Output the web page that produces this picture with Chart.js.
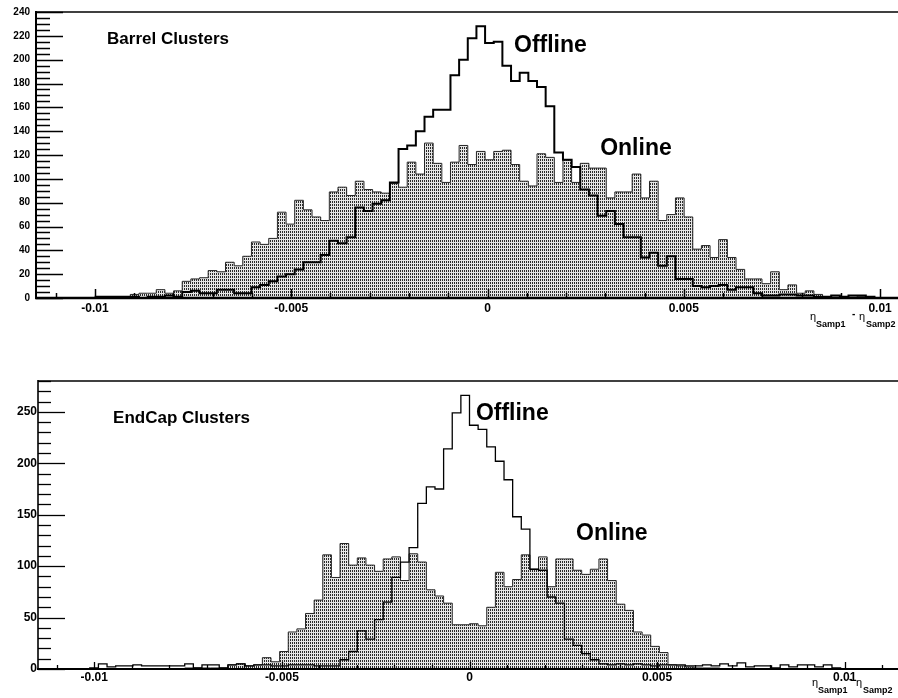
<!DOCTYPE html>
<html>
<head>
<meta charset="utf-8">
<script src="https://cdn.jsdelivr.net/npm/chart.js@4.4.0/dist/chart.umd.min.js"></script>
<style>
  html, body { margin: 0; padding: 0; background: #fff; }
  body { width: 898px; height: 698px; overflow: hidden; position: relative; }
  .panel { position: absolute; left: 0; }
  #barrel { top: 0; }
  #endcap { top: 360px; }
</style>
</head>
<body>
<div class="panel" id="barrel"><canvas id="barrelCanvas" width="960" height="340"></canvas></div>
<div class="panel" id="endcap"><canvas id="endcapCanvas" width="920" height="338"></canvas></div>
<script>
// Shared x axis (eta_Samp1 - eta_Samp2)
const xMin = -0.0115;
const xMax = 0.0115;
const xTickValues = [-0.01, -0.005, 0, 0.005, 0.01];
const xTickLabels = ['-0.01', '-0.005', '0', '0.005', '0.01'];

// Barrel histograms
const barrelYTicks = [0, 20, 40, 60, 80, 100, 120, 140, 160, 180, 200, 220, 240];
const barrelBinWidth = 0.0002204;
const barrelFirstEdge = -0.01020;
const barrelOnline = [
  0, 0, 0, 1, 1, 3, 4, 4, 7, 4,
  6, 14, 16, 17, 23, 22, 30, 27, 35, 47,
  45, 50, 72, 62, 82, 74, 68, 65, 89, 93,
  86, 98, 91, 89, 88, 96, 93, 114, 104, 130,
  113, 97, 114, 128, 112, 123, 116, 123, 124, 112,
  98, 94, 121, 118, 97, 116, 97, 113, 109, 109,
  84, 89, 89, 104, 84, 98, 65, 70, 84, 68,
  41, 44, 34, 49, 34, 24, 16, 16, 12, 22,
  7, 11, 4, 6, 3, 1, 2, 1, 2, 1,
  1, 0
];
const barrelOffline = [
  0, 1, 1, 1, 1, 1, 0, 1, 1, 2,
  1, 5, 6, 4, 4, 7, 7, 4, 4, 9,
  11, 14, 18, 20, 24, 30, 30, 36, 48, 46,
  51, 76, 73, 79, 82, 97, 125, 128, 140, 152,
  158, 158, 187, 200, 218, 228, 214, 215, 195, 182,
  189, 182, 177, 161, 122, 116, 110, 91, 86, 69,
  73, 62, 51, 51, 34, 38, 27, 35, 16, 16,
  10, 9, 10, 11, 7, 9, 9, 4, 2, 2,
  3, 3, 2, 2, 1, 1, 2, 1, 2, 2,
  1, 0
];

// EndCap histograms
const endcapYTicks = [0, 50, 100, 150, 200, 250];
const endcapBinWidth = 0.00023;
const endcapFirstEdge = -0.01035;
const endcapOnline = [
  0, 0, 0, 0, 0, 0, 0, 0, 0, 0,
  0, 0, 1, 1, 1, 1, 1, 4, 5, 3,
  4, 11, 7, 17, 36, 39, 54, 67, 111, 89,
  122, 101, 108, 101, 95, 107, 109, 86, 112, 104,
  77, 71, 64, 43, 43, 44, 42, 60, 94, 80,
  87, 111, 97, 109, 80, 107, 107, 96, 92, 97,
  107, 86, 63, 57, 36, 33, 22, 16, 4, 3,
  2, 1, 1, 1, 0, 0, 0, 0, 0, 0,
  0, 0, 0, 0, 0, 0, 0, 0, 0, 0
];
const endcapOffline = [
  0, 1, 5, 2, 3, 3, 4, 3, 3, 3,
  3, 3, 5, 1, 4, 4, 1, 4, 5, 3,
  4, 4, 3, 3, 4, 4, 4, 3, 3, 3,
  9, 17, 37, 29, 48, 65, 89, 104, 118, 161,
  177, 175, 214, 249, 266, 237, 233, 216, 202, 184,
  148, 136, 97, 96, 70, 64, 29, 23, 15, 9,
  5, 4, 5, 4, 5, 4, 3, 4, 4, 4,
  3, 3, 4, 3, 5, 3, 6, 2, 3, 3,
  1, 4, 2, 4, 4, 2, 4, 1, 0, 0
];

Chart.defaults.font.family = "'Liberation Sans', Arial, Helvetica, sans-serif";
Chart.defaults.color = '#000';

// Bin contents -> step outline points at the bin edges
function stepPoints(counts, firstEdge, width) {
  const pts = counts.map((c, k) => ({ x: firstEdge + k * width, y: c }));
  pts.push({ x: firstEdge + counts.length * width, y: counts[counts.length - 1] });
  return pts;
}

// Stippled fill used for the online histogram
function dotPattern(ctx) {
  const tile = document.createElement('canvas');
  tile.width = 2; tile.height = 3;
  const g = tile.getContext('2d');
  g.fillStyle = '#e6e6e6'; g.fillRect(0, 0, 2, 3);
  g.fillStyle = '#2a2a2a'; g.fillRect(0, 0, 1, 2);
  return ctx.createPattern(tile, 'repeat');
}

// Frame and inward-pointing tick marks
const frameTicks = {
  id: 'frameTicks',
  afterDatasetsDraw(chart, args, o) {
    const { ctx, chartArea: a, scales: { x, y } } = chart;
    ctx.save();
    ctx.strokeStyle = '#000';
    ctx.lineWidth = o.yTickWidth;
    const nY = Math.round(o.yMax / o.yMinor);
    for (let k = 0; k <= nY; k++) {
      const v = k * o.yMinor;
      const major = (v % o.yMajor) === 0;
      const py = Math.round(y.getPixelForValue(v)) + 0.5;
      ctx.beginPath();
      ctx.moveTo(a.left, py);
      ctx.lineTo(a.left + (major ? o.yMajorLen : o.yMinorLen), py);
      ctx.stroke();
    }
    ctx.lineWidth = o.xTickWidth;
    for (let k = -11; k <= 11; k++) {
      const major = k % 5 === 0;
      const px = Math.round(x.getPixelForValue(k * 0.001)) + 0.5;
      ctx.beginPath();
      ctx.moveTo(px, a.bottom);
      ctx.lineTo(px, a.bottom - (major ? o.xMajorLen : o.xMinorLen));
      ctx.stroke();
    }
    ctx.lineWidth = o.topWidth;
    ctx.beginPath(); ctx.moveTo(a.left, a.top); ctx.lineTo(a.right, a.top); ctx.stroke();
    ctx.beginPath(); ctx.moveTo(a.right, a.top); ctx.lineTo(a.right, a.bottom); ctx.stroke();
    ctx.lineWidth = o.leftWidth;
    ctx.beginPath(); ctx.moveTo(a.left, a.top - 1); ctx.lineTo(a.left, a.bottom); ctx.stroke();
    ctx.lineWidth = o.bottomWidth;
    ctx.beginPath(); ctx.moveTo(a.left - 1, a.bottom); ctx.lineTo(a.right, a.bottom); ctx.stroke();
    ctx.restore();
  }
};

// Panel captions and the axis title with subscripts
const panelText = {
  id: 'panelText',
  afterDraw(chart, args, o) {
    const { ctx, scales: { x, y } } = chart;
    ctx.save();
    ctx.fillStyle = '#000';
    ctx.textAlign = 'left';
    ctx.textBaseline = 'middle';
    for (const it of o.items) {
      ctx.font = `bold ${it.size}px 'Liberation Sans', Arial, sans-serif`;
      ctx.fillText(it.text, x.getPixelForValue(it.x), y.getPixelForValue(it.y));
    }
    ctx.textBaseline = 'alphabetic';
    for (const p of o.title) {
      ctx.font = p.font;
      ctx.fillText(p.text, p.px, p.py);
    }
    ctx.restore();
  }
};

function makePanel(canvasId, cfg) {
  const canvas = document.getElementById(canvasId);
  const ctx = canvas.getContext('2d');
  return new Chart(ctx, {
    type: 'line',
    data: {
      datasets: [
        {
          label: 'Online',
          data: stepPoints(cfg.online, cfg.firstEdge, cfg.binWidth),
          stepped: 'before',
          borderColor: '#262626',
          borderWidth: 1,
          backgroundColor: dotPattern(ctx),
          fill: 'origin',
          pointRadius: 0,
          order: 1
        },
        {
          label: 'Offline',
          data: stepPoints(cfg.offline, cfg.firstEdge, cfg.binWidth),
          stepped: 'before',
          borderColor: '#000',
          borderWidth: cfg.offlineWidth,
          fill: false,
          pointRadius: 0,
          order: 0
        }
      ]
    },
    options: {
      responsive: false,
      animation: false,
      devicePixelRatio: 1,
      layout: { padding: { top: cfg.padTop, right: cfg.padRight, left: 0, bottom: 0 } },
      plugins: {
        legend: { display: false },
        tooltip: { enabled: false },
        frameTicks: cfg.frame,
        panelText: { items: cfg.items, title: cfg.title }
      },
      scales: {
        x: {
          type: 'linear',
          min: xMin,
          max: xMax,
          afterBuildTicks: s => { s.ticks = xTickValues.map(v => ({ value: v })); },
          afterFit: s => { s.height = cfg.xAxisHeight; },
          grid: { display: false, drawTicks: false },
          border: { display: false },
          ticks: {
            autoSkip: false,
            maxRotation: 0,
            padding: cfg.xLabelPad,
            font: { size: 12, weight: 'bold' },
            color: '#000',
            callback: v => xTickLabels[xTickValues.indexOf(v)]
          }
        },
        y: {
          min: 0,
          max: cfg.frame.yMax,
          afterBuildTicks: s => { s.ticks = cfg.yTicks.map(v => ({ value: v })); },
          afterFit: s => { s.width = cfg.yAxisWidth; },
          grid: { display: false, drawTicks: false },
          border: { display: false },
          ticks: {
            padding: cfg.yLabelPad,
            font: { size: cfg.yFont, weight: 'bold' },
            color: '#000',
            callback: v => String(v)
          }
        }
      }
    },
    plugins: [frameTicks, panelText]
  });
}

const etaFont = "11px 'Liberation Sans', Arial, sans-serif";
const subFont = "bold 9px 'Liberation Sans', Arial, sans-serif";
const dashFont = "bold 10px 'Liberation Sans', Arial, sans-serif";

makePanel('barrelCanvas', {
  online: barrelOnline, offline: barrelOffline,
  firstEdge: barrelFirstEdge, binWidth: barrelBinWidth,
  yTicks: barrelYTicks, yFont: 10,
  offlineWidth: 2,
  padTop: 10, padRight: 21, yAxisWidth: 36, xAxisHeight: 42,
  xLabelPad: 3, yLabelPad: 6,
  frame: { yMax: 240, yMajor: 20, yMinor: 5, yMajorLen: 27, yMinorLen: 14, yTickWidth: 1.5,
           xMajorLen: 9, xMinorLen: 5, xTickWidth: 1.5, topWidth: 1.5, leftWidth: 2, bottomWidth: 2.5 },
  items: [
    { text: 'Barrel Clusters', x: -0.00969, y: 217, size: 17 },
    { text: 'Offline', x: 0.000675, y: 212, size: 23 },
    { text: 'Online', x: 0.00287, y: 125, size: 23 }
  ],
  title: [
    { text: 'η', px: 810, py: 320, font: etaFont },
    { text: 'Samp1', px: 816, py: 327, font: subFont },
    { text: '-', px: 852, py: 317, font: dashFont },
    { text: 'η', px: 859, py: 320, font: etaFont },
    { text: 'Samp2', px: 866, py: 327, font: subFont }
  ]
});

makePanel('endcapCanvas', {
  online: endcapOnline, offline: endcapOffline,
  firstEdge: endcapFirstEdge, binWidth: endcapBinWidth,
  yTicks: endcapYTicks, yFont: 12,
  offlineWidth: 1.3,
  padTop: 21, padRight: 19, yAxisWidth: 38, xAxisHeight: 29,
  xLabelPad: 1, yLabelPad: 1,
  frame: { yMax: 280, yMajor: 50, yMinor: 10, yMajorLen: 27, yMinorLen: 13, yTickWidth: 1.3,
           xMajorLen: 7, xMinorLen: 4, xTickWidth: 1.3, topWidth: 1.3, leftWidth: 1.6, bottomWidth: 2 },
  items: [
    { text: 'EndCap Clusters', x: -0.0095, y: 243.5, size: 17 },
    { text: 'Offline', x: 0.00017, y: 248.5, size: 23 },
    { text: 'Online', x: 0.00284, y: 132, size: 23 }
  ],
  title: [
    { text: 'η', px: 812, py: 326, font: etaFont },
    { text: 'Samp1', px: 818, py: 333, font: subFont },
    { text: '-', px: 849, py: 322, font: dashFont },
    { text: 'η', px: 856, py: 326, font: etaFont },
    { text: 'Samp2', px: 863, py: 333, font: subFont }
  ]
});
</script>
</body>
</html>
